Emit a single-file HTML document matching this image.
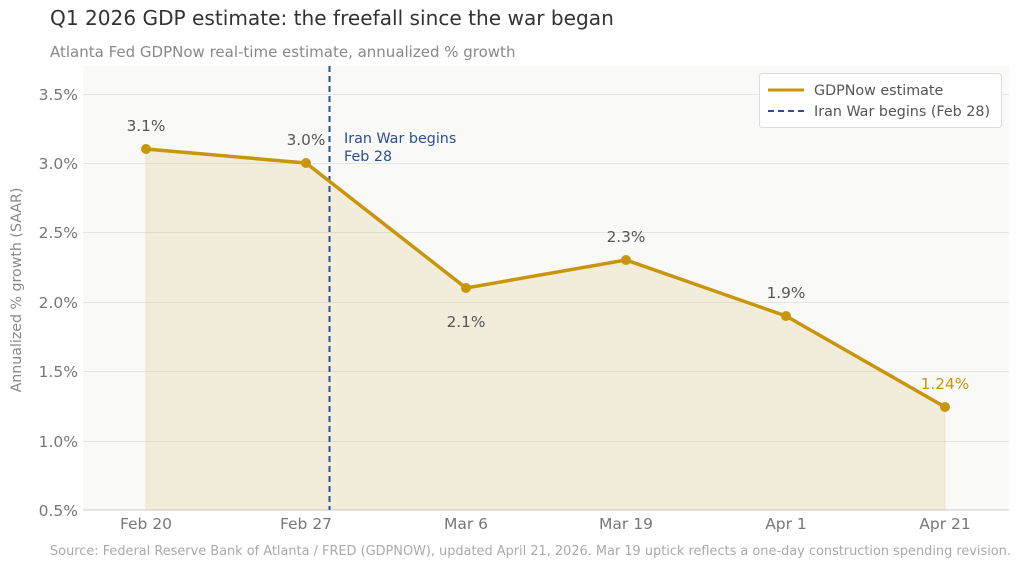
<!DOCTYPE html>
<html><head><meta charset="utf-8"><style>
html,body{margin:0;padding:0;background:#fff;}
svg{display:block;font-family:"DejaVu Sans","Liberation Sans",sans-serif;}
</style></head><body>
<svg width="1024" height="568" viewBox="0 0 1024 568" xmlns="http://www.w3.org/2000/svg">
<rect width="1024" height="568" fill="#fff"/>
<text x="50" y="25" font-size="20.1" fill="#333">Q1 2026 GDP estimate: the freefall since the war began</text>
<text x="50" y="57" font-size="15" fill="#888">Atlanta Fed GDPNow real-time estimate, annualized % growth</text>
<rect x="83" y="66" width="926" height="444" fill="#f9f9f8"/>
<g stroke="#e4e4e2" stroke-width="1">
<line x1="83" x2="1009" y1="94.5" y2="94.5"/>
<line x1="83" x2="1009" y1="163.5" y2="163.5"/>
<line x1="83" x2="1009" y1="232.5" y2="232.5"/>
<line x1="83" x2="1009" y1="302.5" y2="302.5"/>
<line x1="83" x2="1009" y1="371.5" y2="371.5"/>
<line x1="83" x2="1009" y1="441.5" y2="441.5"/>
</g>
<line x1="83" x2="1009" y1="510" y2="510" stroke="#ccc"/>
<g font-size="15.5" fill="#777" text-anchor="end">
<text x="78" y="100">3.5%</text>
<text x="78" y="169">3.0%</text>
<text x="78" y="238">2.5%</text>
<text x="78" y="308">2.0%</text>
<text x="78" y="377">1.5%</text>
<text x="78" y="447">1.0%</text>
<text x="78" y="516">0.5%</text>
</g>
<g font-size="15.5" fill="#777" text-anchor="middle">
<text x="146" y="529">Feb 20</text>
<text x="306" y="529">Feb 27</text>
<text x="466" y="529">Mar 6</text>
<text x="626" y="529">Mar 19</text>
<text x="786" y="529">Apr 1</text>
<text x="945" y="529">Apr 21</text>
</g>
<text transform="translate(21,290) rotate(-90)" font-size="14.2" fill="#888" text-anchor="middle">Annualized % growth (SAAR)</text>
<polygon points="146,149 306,163 466,288 626,260 786,316 945,407 945,510 146,510" fill="#c8960c" fill-opacity="0.12"/>
<line x1="146" x2="146" y1="149" y2="510" stroke="#c8960c" stroke-opacity="0.15"/>
<line x1="945" x2="945" y1="407" y2="510" stroke="#c8960c" stroke-opacity="0.15"/>
<line x1="329.5" x2="329.5" y1="66" y2="510" stroke="#2c4f94" stroke-width="2" stroke-dasharray="6,4"/>
<text x="344" y="143" font-size="14.3" fill="#2c4f94">Iran War begins</text>
<text x="344" y="161" font-size="14.3" fill="#2c4f94">Feb 28</text>
<polyline points="146,149 306,163 466,288 626,260 786,316 945,407" fill="none" stroke="#c8960c" stroke-width="3.5" stroke-linejoin="round"/>
<g fill="#c8960c">
<circle cx="146" cy="149" r="5"/><circle cx="306" cy="163" r="5"/><circle cx="466" cy="288" r="5"/>
<circle cx="626" cy="260" r="5"/><circle cx="786" cy="316" r="5"/><circle cx="945" cy="407" r="5"/>
</g>
<g font-size="15.3" fill="#555" text-anchor="middle">
<text x="146" y="131">3.1%</text>
<text x="306" y="145">3.0%</text>
<text x="466" y="327">2.1%</text>
<text x="626" y="242">2.3%</text>
<text x="786" y="298">1.9%</text>
</g>
<text x="945" y="389" font-size="15.3" fill="#c8960c" text-anchor="middle">1.24%</text>
<rect x="759.5" y="73.5" width="242" height="54" rx="3" fill="#fff" stroke="#ddd"/>
<line x1="768" x2="804" y1="90" y2="90" stroke="#c8960c" stroke-width="3"/>
<line x1="768" x2="804" y1="111" y2="111" stroke="#2c4f94" stroke-width="2" stroke-dasharray="6,4"/>
<text x="814" y="95" font-size="14.3" fill="#555">GDPNow estimate</text>
<text x="814" y="116" font-size="14.3" fill="#555">Iran War begins (Feb 28)</text>
<text x="50" y="555" font-size="12.9" fill="#aaa">Source: Federal Reserve Bank of Atlanta / FRED (GDPNOW), updated April 21, 2026. Mar 19 uptick reflects a one-day construction spending revision.</text>
</svg>
</body></html>
